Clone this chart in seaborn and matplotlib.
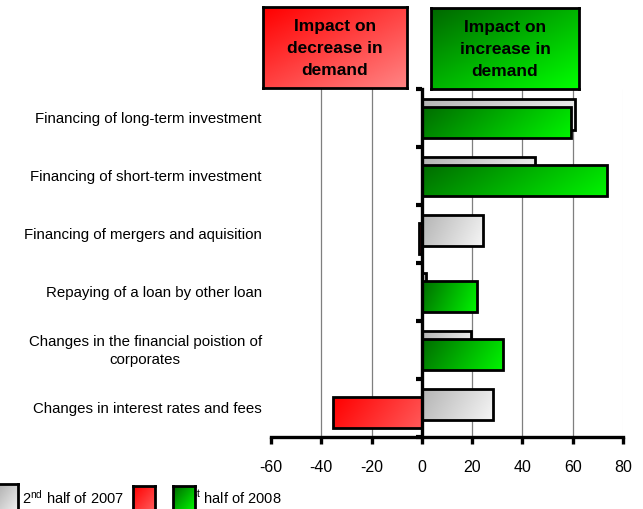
import numpy as np
import pandas as pd
import matplotlib
matplotlib.use("Agg")
import matplotlib.pyplot as plt
import seaborn as sns
from matplotlib.colors import LinearSegmentedColormap
from matplotlib.transforms import blended_transform_factory

# values
factors = [
    "Financing of long-term investment",
    "Financing of short-term investment",
    "Financing of mergers and aquisition",
    "Repaying of a loan by other loan",
    "Changes in the financial poistion of\ncorporates",
    "Changes in interest rates and fees",
]
h2_2007 = [61, 45, 24.3, 1.6, 19.5, 28.3]
h1_2008 = [59.4, 73.6, -1, 21.8, 32.1, -35.5]
x_ticks = [-60, -40, -20, 0, 20, 40, 60, 80]

GREY = ("#b4b4b4", "#f6f6f6")
GREEN = ("#006c00", "#00f500")
RED = ("#ff0000", "#ff5a5a")


def _gradient(mix_x=0.5):
    gx, gy = np.meshgrid(np.linspace(0, 1, 128), np.linspace(0, 1, 32))
    return mix_x * gx + (1 - mix_x) * gy


def _fill_patch(ax, patch, colors, z):
    """Replace the flat fill of a bar with a diagonal gradient clipped to it."""
    x, w = patch.get_x(), patch.get_width()
    y, h = patch.get_y(), patch.get_height()
    x0, x1 = sorted([x, x + w])
    y0, y1 = sorted([y, y + h])
    cmap = LinearSegmentedColormap.from_list("bar", list(colors))
    im = ax.imshow(_gradient(0.8), cmap=cmap, extent=(x0, x1, y1, y0),
                   origin="upper", aspect="auto", interpolation="bilinear", zorder=z)
    im.set_clip_path(patch)
    patch.set_facecolor("none")
    patch.set_zorder(z + 0.1)


def _box(fig, rect, colors, text=None, z=1):
    bax = fig.add_axes(rect, zorder=z)
    cmap = LinearSegmentedColormap.from_list("box", list(colors))
    bax.imshow(_gradient(0.5), cmap=cmap, extent=(0, 1, 0, 1), aspect="auto",
               interpolation="bilinear")
    bax.set_xticks([])
    bax.set_yticks([])
    for sp in bax.spines.values():
        sp.set_color("black")
        sp.set_linewidth(2)
    if text:
        bax.text(0.5, 0.5, text, ha="center", va="center", fontsize=12.5,
                 fontweight="bold", linespacing=1.6, color="black",
                 transform=bax.transAxes)
    return bax


sns.set_theme(style="white")
plt.rcParams["font.family"] = ["Liberation Sans", "DejaVu Sans"]
plt.rcParams["axes.unicode_minus"] = False
plt.rcParams["mathtext.default"] = "regular"
plt.rcParams["text.color"] = "black"

df = pd.DataFrame({"factor": factors, "h2_2007": h2_2007, "h1_2008": h1_2008})
df["direction"] = np.where(df["h1_2008"] < 0, "decrease", "increase")

W, H = 643, 510
fig = plt.figure(figsize=(W / 100, H / 100), dpi=100)
ax = fig.add_axes([271 / W, 72 / H, 352 / W, 348 / H])

# 2nd half of 2007 (drawn first, sits behind)
sns.barplot(data=df, x="h2_2007", y="factor", orient="h", color=GREY[1],
            width=0.53, edgecolor="black", linewidth=2, ax=ax)
grey_bars = list(ax.patches)

# 1st half of 2008 (green for increase, red for decrease)
sns.barplot(data=df, x="h1_2008", y="factor", orient="h", hue="direction",
            palette={"increase": GREEN[1], "decrease": RED[0]}, dodge=False,
            width=0.53, edgecolor="black", linewidth=2, legend=False, ax=ax)
new_bars = [p for p in ax.patches if p not in grey_bars]

for p in grey_bars:
    p.set_y(p.get_y() - 0.06)
    _fill_patch(ax, p, GREY, 1)
for p in new_bars:
    p.set_y(p.get_y() + 0.075)
    _fill_patch(ax, p, RED if p.get_width() < 0 else GREEN, 2)

for v in x_ticks[1:-1]:
    if v != 0:
        ax.axvline(v, color="#7f7f7f", lw=0.9, zorder=0.5)
ax.axvline(x_ticks[-1], color="#e6e6e6", lw=0.8, zorder=0.5)

ax.set_xlim(x_ticks[0], x_ticks[-1])
ax.set_ylim(len(factors) - 0.5, -0.5)
ax.set_xticks(x_ticks)
ax.set_yticks(np.arange(-0.5, len(factors), 1))
ax.set_yticklabels([])
ax.set_xlabel("")
ax.set_ylabel("")

for side in ["top", "right"]:
    ax.spines[side].set_visible(False)
ax.spines["left"].set_position(("data", 0))
for side in ["left", "bottom"]:
    ax.spines[side].set_color("black")
    ax.spines[side].set_linewidth(2.4)
    ax.spines[side].set_zorder(4)
ax.tick_params(axis="x", length=5, width=2.4, color="black", direction="out",
               pad=11, labelsize=11.5, labelcolor="black", bottom=True)
ax.tick_params(axis="y", length=4, width=3, color="black", direction="out",
               left=True, labelleft=False)

trans = blended_transform_factory(ax.transAxes, ax.transData)
for i, name in enumerate(factors):
    ax.text(-0.026, i, name, transform=trans, ha="right", va="center",
            multialignment="center", fontsize=10.8, color="black",
            linespacing=1.35)

# header boxes
_box(fig, [263 / W, (H - 89) / H, 144 / W, 81 / H], ("#ff0000", "#ff8484"),
     "Impact on\ndecrease in\ndemand")
_box(fig, [431 / W, (H - 90) / H, 148 / W, 81 / H], ("#006800", "#00ff00"),
     "Impact on\nincrease in\ndemand")

# legend
_box(fig, [-2 / W, -4 / H, 20 / W, 29 / H], ("#b0b0b0", "#f2f2f2"), z=5)
fig.text(22 / W, 12 / H, "2$^{nd}$ half of 2007", fontsize=10.5, va="center")
_box(fig, [133 / W, -4 / H, 22 / W, 27 / H], ("#ff0000", "#ff6060"), z=5)
fig.text(183 / W, 12 / H, "1$^{st}$ half of 2008", fontsize=10.5, va="center")
_box(fig, [173 / W, -4 / H, 22 / W, 27 / H], ("#006800", "#00ff00"), z=5)

fig.savefig("out.png", dpi=100)
plt.close(fig)
